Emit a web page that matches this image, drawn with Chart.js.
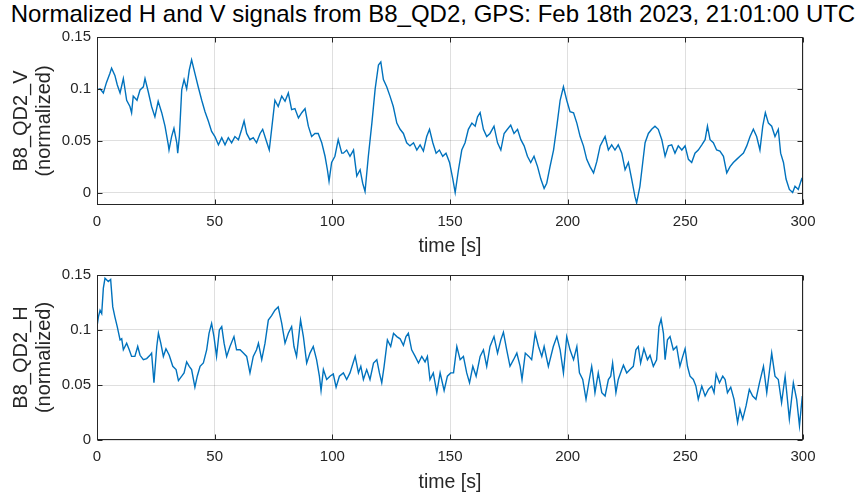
<!DOCTYPE html>
<html>
<head>
<meta charset="utf-8">
<script src="https://cdn.jsdelivr.net/npm/chart.js@4"></script>
<style>
  body { margin: 0; background: #fff; }
  #wrap { position: relative; width: 858px; height: 497px; overflow: hidden; }
  #title { position: absolute; left: 0; top: 0; width: 866px; text-align: center;
           font: 24px "Liberation Sans", Arial, sans-serif; color: #000; white-space: nowrap; }
  canvas { position: absolute; left: 0; }
</style>
</head>
<body>
<div id="wrap">
  <div id="title">Normalized H and V signals from B8_QD2, GPS: Feb 18th 2023, 21:01:00 UTC</div>
  <canvas id="chartV" width="858" height="260" style="top:0"></canvas>
  <canvas id="chartH" width="858" height="237" style="top:260px"></canvas>
</div>
<script>
// time stamps [s] and normalized values
const timeV = [0, 1.3, 2.7, 4, 5.5, 6.2, 7.6, 8.6, 9.8, 11.2, 12.6, 14, 14.7, 15.4, 17, 18.3, 19.7, 20.4, 21.8, 23.2,
  24.6, 26, 27.5, 28.9, 30.3, 30.6, 31.7, 32.7, 33.9, 34.3, 35, 36, 37, 38.1, 39.2, 40.2, 41.6, 43, 44.5, 45.9,
  47.3, 48.7, 50.1, 51.6, 53, 54.4, 55.8, 57.2, 58.6, 60.1, 61.5, 62.5, 63.6, 65, 66.4, 67.8, 69.3, 70.4, 71.8, 73.2,
  74.2, 75.6, 77, 78.5, 79.9, 81.3, 82.7, 84.1, 85.6, 87, 88.4, 89.8, 91.2, 92.6, 94, 95.5, 96.9, 97.9, 98.6, 99.7,
  101.1, 102.5, 104, 104.7, 106.1, 107.5, 109, 110.4, 111.8, 112.9, 113.9, 115.3, 116.8, 118.2, 119.6, 120.6, 121.7, 123.1, 124.5, 125.9,
  127.4, 128.8, 130.2, 131.6, 133, 134.5, 135.9, 137.3, 138.7, 140.1, 141.3, 142.7, 144.1, 145.5, 146.9, 148.3, 149.8, 151.2, 152.2, 153.6,
  155, 156.4, 157.8, 159.3, 160.7, 161.7, 162.8, 164.2, 165.6, 167, 168.7, 170.2, 171.6, 173, 174.4, 175.8, 177.2, 178.7, 180.1, 181.5,
  182.9, 184.3, 185.7, 187.2, 188.6, 190, 191.1, 192.5, 194, 195.4, 196.8, 198.2, 199.6, 201, 202.5, 203.9, 205.3, 206.7, 208.1, 209.5,
  211, 212.4, 213.8, 215.2, 215.9, 217.3, 218.7, 220.1, 221.5, 223, 224.4, 225.8, 227.2, 228.6, 229.3, 230.7, 231.9, 232.9, 234.3, 235.7,
  237.1, 238.5, 240, 241.4, 242.8, 244.2, 245.6, 247, 248.5, 249.9, 251.3, 252.7, 254.1, 255.5, 257, 258.4, 259.4, 260.5, 261.9, 263.3,
  264.7, 266.2, 267.6, 269, 270.4, 271.8, 273.2, 274.7, 276.1, 277.5, 278.9, 280.3, 281.7, 282.9, 284, 285.3, 286.7, 288.1, 289.5, 290.5,
  291.7, 292.8, 294.2, 295.6, 296.6, 298, 299.4, 300];
const valuesV = [0.099, 0.100, 0.096, 0.106, 0.115, 0.120, 0.113, 0.104, 0.096, 0.110, 0.089, 0.083, 0.077, 0.093, 0.089, 0.099, 0.102, 0.110, 0.097, 0.083,
  0.073, 0.088, 0.077, 0.064, 0.046, 0.041, 0.054, 0.062, 0.048, 0.038, 0.054, 0.099, 0.109, 0.100, 0.118, 0.128, 0.115, 0.102, 0.089, 0.078,
  0.069, 0.059, 0.054, 0.046, 0.053, 0.046, 0.053, 0.048, 0.054, 0.051, 0.061, 0.069, 0.057, 0.051, 0.053, 0.048, 0.057, 0.061, 0.051, 0.041,
  0.061, 0.089, 0.083, 0.093, 0.088, 0.096, 0.080, 0.081, 0.072, 0.077, 0.081, 0.064, 0.054, 0.057, 0.057, 0.048, 0.035, 0.022, 0.011, 0.029,
  0.035, 0.051, 0.038, 0.038, 0.041, 0.035, 0.041, 0.016, 0.022, 0.009, 0.001, 0.035, 0.067, 0.100, 0.123, 0.126, 0.109, 0.102, 0.093, 0.083,
  0.067, 0.061, 0.057, 0.048, 0.045, 0.048, 0.041, 0.046, 0.040, 0.054, 0.061, 0.048, 0.038, 0.041, 0.035, 0.038, 0.029, 0.013, 0.000, 0.022,
  0.041, 0.048, 0.061, 0.067, 0.064, 0.073, 0.077, 0.061, 0.054, 0.057, 0.064, 0.048, 0.041, 0.057, 0.061, 0.065, 0.057, 0.061, 0.051, 0.045,
  0.035, 0.029, 0.035, 0.025, 0.013, 0.004, 0.009, 0.025, 0.041, 0.064, 0.089, 0.102, 0.089, 0.078, 0.077, 0.067, 0.054, 0.045, 0.032, 0.025,
  0.019, 0.030, 0.045, 0.051, 0.054, 0.041, 0.046, 0.041, 0.046, 0.038, 0.022, 0.029, 0.013, -0.004, -0.010, 0.006, 0.029, 0.048, 0.057, 0.061,
  0.064, 0.061, 0.051, 0.035, 0.045, 0.046, 0.038, 0.045, 0.041, 0.045, 0.032, 0.029, 0.038, 0.041, 0.046, 0.051, 0.064, 0.051, 0.048, 0.041,
  0.040, 0.035, 0.019, 0.025, 0.029, 0.032, 0.035, 0.038, 0.045, 0.054, 0.061, 0.054, 0.041, 0.064, 0.077, 0.067, 0.064, 0.054, 0.061, 0.038,
  0.029, 0.013, 0.003, 0.000, 0.006, 0.003, 0.013, 0.010];

const timeH = [0, 0.6, 1.3, 2, 2.7, 3.4, 4.8, 5.8, 6.7, 7.6, 8.6, 9.8, 10.5, 11.2, 12.6, 13.7, 14.7, 16.1, 17.3, 18.3,
  19.7, 21.1, 22.5, 23.2, 24.2, 25.4, 26.1, 27.1, 28.2, 29.3, 30.7, 32.2, 33.6, 34.6, 36, 37, 38.1, 39.2, 40.2, 41.6,
  42.6, 43.8, 45.2, 46.6, 47.6, 48.7, 49.7, 50.8, 52, 53, 54, 55.1, 56.5, 58.2, 59.3, 60.8, 62.2, 63.6, 65, 66.4,
  67.8, 68.6, 70, 71.4, 72.8, 74.2, 75.6, 77, 78.5, 79.9, 81.3, 82.7, 83.7, 84.8, 86.5, 87.7, 89.1, 90.5, 91.9, 93.3,
  94.5, 95.2, 96.2, 97.6, 99, 100.4, 101.6, 103, 104.7, 106.1, 107.5, 109.7, 111.1, 112.1, 113.2, 114.6, 116, 117.5, 118.9, 120,
  121, 122, 123.4, 124.8, 126, 127.4, 128.8, 130.2, 131.3, 132.3, 133.7, 135.2, 136.6, 138, 139.4, 140.4, 141.5, 142.9, 144.4, 145.8,
  147.5, 148.9, 150.3, 151.5, 152.9, 154.3, 155.7, 157.1, 158.3, 159.7, 161.1, 162.8, 164.2, 165.6, 167, 168.7, 170.2, 171.6, 172.7, 174.1,
  175.5, 177, 178.4, 179.8, 180.6, 182, 183.5, 184.7, 186.2, 187.6, 189, 190, 191.8, 193.9, 195.4, 196.8, 198.2, 199.6, 201, 202.5,
  203.9, 205, 206.4, 207.8, 209.2, 210.2, 210.6, 211.6, 213, 214.5, 215.9, 217.3, 218.3, 219.1, 220.5, 221.5, 223, 223.7, 225.1, 226.5,
  227.9, 229, 230, 231, 232.4, 233.9, 235, 236.4, 237.8, 238.8, 239.7, 240.7, 241.4, 242.4, 243.5, 244.9, 246.3, 247.7, 248.9, 249.9,
  250.9, 252, 253.4, 254.5, 255.5, 257, 258.4, 259.8, 261.2, 262.2, 263.1, 264.5, 265.9, 266.9, 267.9, 269.3, 270.7, 272.2, 273.2, 274.4,
  275.8, 277.2, 278.6, 280, 281.5, 283.2, 284.6, 286.7, 288.1, 289.5, 290.9, 292.4, 294.2, 295.9, 297.3, 298.5, 299.7];
const valuesH = [0.103, 0.112, 0.118, 0.115, 0.138, 0.147, 0.144, 0.146, 0.121, 0.112, 0.103, 0.091, 0.092, 0.082, 0.088, 0.082, 0.076, 0.076, 0.085, 0.077,
  0.073, 0.074, 0.077, 0.079, 0.052, 0.085, 0.097, 0.088, 0.076, 0.083, 0.077, 0.067, 0.064, 0.054, 0.058, 0.061, 0.071, 0.067, 0.064, 0.048,
  0.058, 0.067, 0.070, 0.082, 0.097, 0.106, 0.094, 0.076, 0.100, 0.103, 0.088, 0.076, 0.085, 0.094, 0.082, 0.082, 0.079, 0.076, 0.061, 0.076,
  0.082, 0.088, 0.073, 0.088, 0.109, 0.113, 0.118, 0.121, 0.106, 0.088, 0.097, 0.103, 0.085, 0.076, 0.109, 0.094, 0.070, 0.079, 0.085, 0.073,
  0.058, 0.045, 0.064, 0.055, 0.058, 0.060, 0.048, 0.058, 0.061, 0.055, 0.061, 0.076, 0.061, 0.067, 0.055, 0.064, 0.055, 0.070, 0.073, 0.061,
  0.052, 0.067, 0.091, 0.085, 0.097, 0.094, 0.092, 0.086, 0.094, 0.097, 0.082, 0.076, 0.070, 0.076, 0.071, 0.076, 0.055, 0.061, 0.043, 0.061,
  0.045, 0.058, 0.061, 0.061, 0.085, 0.073, 0.076, 0.061, 0.052, 0.067, 0.058, 0.076, 0.082, 0.067, 0.085, 0.094, 0.079, 0.091, 0.098, 0.082,
  0.067, 0.073, 0.079, 0.067, 0.055, 0.079, 0.076, 0.073, 0.097, 0.085, 0.076, 0.085, 0.067, 0.085, 0.094, 0.082, 0.061, 0.094, 0.082, 0.073,
  0.085, 0.061, 0.055, 0.037, 0.055, 0.067, 0.061, 0.043, 0.061, 0.043, 0.040, 0.055, 0.058, 0.070, 0.043, 0.055, 0.064, 0.068, 0.061, 0.064,
  0.067, 0.082, 0.085, 0.070, 0.083, 0.073, 0.077, 0.067, 0.073, 0.103, 0.110, 0.097, 0.073, 0.091, 0.094, 0.082, 0.085, 0.067, 0.076, 0.083,
  0.067, 0.058, 0.055, 0.049, 0.037, 0.049, 0.040, 0.046, 0.049, 0.043, 0.060, 0.052, 0.058, 0.055, 0.043, 0.048, 0.037, 0.016, 0.028, 0.019,
  0.031, 0.046, 0.040, 0.037, 0.052, 0.067, 0.043, 0.079, 0.058, 0.055, 0.034, 0.058, 0.019, 0.052, 0.037, 0.013, 0.040];

const xTicks = [0, 50, 100, 150, 200, 250, 300];
const yTicks = [0, 0.05, 0.1, 0.15];
const yTickLabels = ['0', '0.05', '0.1', '0.15'];

const FONT = '"Liberation Sans", Arial, sans-serif';
const AXIS = '#262626';
const LINE = '#0072BD';

// MATLAB style box with inward tick marks
const boxPlugin = {
  id: 'box',
  afterDraw(chart) {
    const { ctx, chartArea: a, scales } = chart;
    const L = Math.round(a.left) + 0.5, R = Math.round(a.right) - 0.5;
    const T = Math.round(a.top) + 0.5, B = Math.round(a.bottom) - 0.5;
    ctx.save();
    ctx.strokeStyle = AXIS;
    ctx.lineWidth = 1;
    ctx.beginPath();
    xTicks.forEach(v => {
      const px = Math.round(scales.x.getPixelForValue(v)) + 0.5;
      ctx.moveTo(px, B); ctx.lineTo(px, B - 5);
      ctx.moveTo(px, T); ctx.lineTo(px, T + 5);
    });
    yTicks.forEach(v => {
      const py = Math.round(scales.y.getPixelForValue(v)) + 0.5;
      ctx.moveTo(L, py); ctx.lineTo(L + 5, py);
      ctx.moveTo(R, py); ctx.lineTo(R - 5, py);
    });
    ctx.stroke();
    ctx.strokeRect(L, T, R - L, B - T);
    ctx.restore();
  }
};

function makeChart(id, times, values, yMin, yLabel, padTop, xAxisH, xTitlePad) {
  return new Chart(document.getElementById(id), {
    type: 'line',
    data: {
      datasets: [{
        data: times.map((t, i) => ({ x: t, y: values[i] })),
        borderColor: LINE,
        borderWidth: 1.4,
        pointRadius: 0,
        tension: 0
      }]
    },
    options: {
      responsive: false,
      animation: false,
      layout: { padding: { top: padTop, right: 55, left: 0, bottom: 0 } },
      plugins: { legend: { display: false }, tooltip: { enabled: false } },
      scales: {
        x: {
          type: 'linear', min: 0, max: 300,
          afterBuildTicks: ax => { ax.ticks = xTicks.map(v => ({ value: v })); },
          afterFit: ax => { ax.height = xAxisH; },
          grid: { color: 'rgba(38,38,38,0.15)', drawTicks: false },
          border: { display: false },
          ticks: { color: AXIS, font: { family: FONT, size: 15 }, padding: 8, maxRotation: 0 },
          title: { display: true, text: 'time [s]', color: AXIS,
                   font: { family: FONT, size: 19.5, lineHeight: 1.2 }, padding: { top: 0, bottom: xTitlePad } }
        },
        y: {
          min: yMin, max: 0.15,
          afterBuildTicks: ax => { ax.ticks = yTicks.map(v => ({ value: v })); },
          afterFit: ax => { ax.width = 97; },
          grid: { color: 'rgba(38,38,38,0.15)', drawTicks: false },
          border: { display: false },
          ticks: { color: AXIS, font: { family: FONT, size: 15 }, padding: 6,
                   callback: v => yTickLabels[yTicks.indexOf(v)] },
          title: { display: true, text: [yLabel, '(normalized)'], color: AXIS,
                   font: { family: FONT, size: 20, lineHeight: 1.15 }, padding: { top: 10, bottom: 0 } }
        }
      }
    },
    plugins: [boxPlugin]
  });
}

makeChart('chartV', timeV, valuesV, -0.012, 'B8_QD2_V', 37, 55, 2);
makeChart('chartH', timeH, valuesH, 0, 'B8_QD2_H', 12, 57, 3);
</script>
</body>
</html>
